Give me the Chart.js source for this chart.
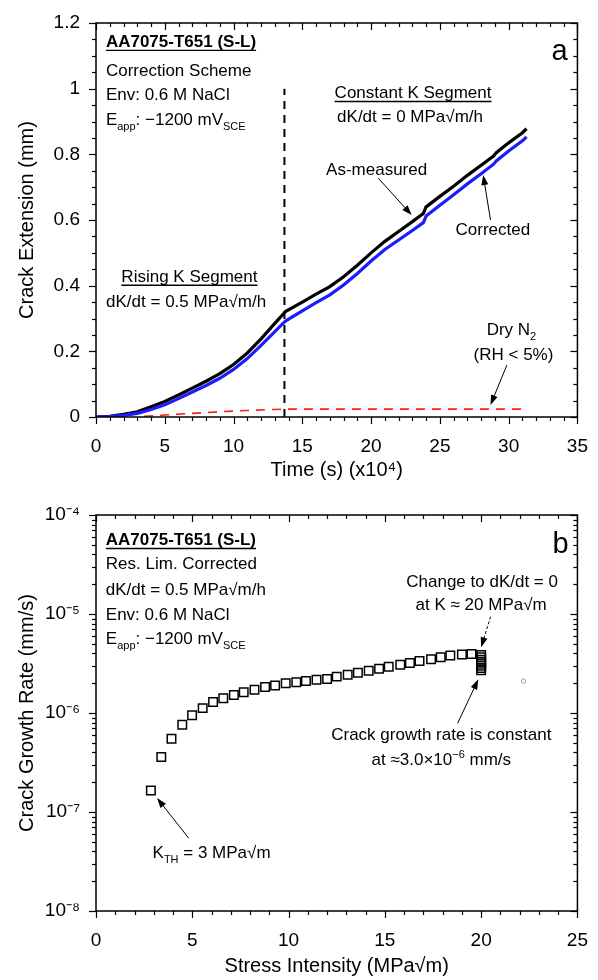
<!DOCTYPE html>
<html>
<head>
<meta charset="utf-8">
<script src="https://cdn.jsdelivr.net/npm/chart.js@4.4.1/dist/chart.umd.min.js"></script>
<style>
  html, body { margin: 0; padding: 0; background: #fff; }
  #wrap { position: relative; width: 598px; height: 980px; }
  canvas { position: absolute; left: 0; }
</style>
</head>
<body>
<div id="wrap">
  <canvas id="crackChart" width="598" height="490" style="top:0"></canvas>
  <canvas id="rateChart" width="598" height="490" style="top:490px"></canvas>
</div>
<script>
// Panel a: crack extension (mm) vs time (x10^4 s)
const timeX      = [0, 1, 2, 3, 4, 5, 6, 7, 8, 9, 10, 11, 12, 13, 13.6, 13.8, 15, 16, 17, 18, 19, 20, 21, 22, 23, 23.8, 24.0, 25, 26, 27, 28, 28.9, 29.1, 30, 31, 31.3];
const measuredY  = [0, 0.002, 0.008, 0.016, 0.031, 0.047, 0.067, 0.088, 0.109, 0.132, 0.16, 0.195, 0.238, 0.285, 0.313, 0.322, 0.35, 0.374, 0.397, 0.427, 0.462, 0.5, 0.535, 0.565, 0.595, 0.62, 0.64, 0.672, 0.703, 0.736, 0.767, 0.795, 0.805, 0.835, 0.866, 0.878];
const correctedY = [0, 0.001, 0.005, 0.011, 0.023, 0.037, 0.056, 0.076, 0.096, 0.118, 0.145, 0.178, 0.218, 0.26, 0.285, 0.293, 0.323, 0.348, 0.372, 0.402, 0.437, 0.475, 0.51, 0.539, 0.568, 0.592, 0.612, 0.645, 0.677, 0.71, 0.741, 0.77, 0.78, 0.81, 0.841, 0.853];
const dryTimeX   = [3.5, 5, 7, 9, 11, 13, 13.7, 20, 25, 31.4];
const dryY       = [0.002, 0.006, 0.011, 0.016, 0.02, 0.023, 0.024, 0.024, 0.024, 0.024];
const changeTime = 13.7;
const changeSpan = [0, 1.0];

// Panel b: crack growth rate (mm/s) vs stress intensity (MPa sqrt m)
const stressK    = [2.85, 3.39, 3.92, 4.48, 4.99, 5.54, 6.08, 6.61, 7.16, 7.67, 8.23, 8.78, 9.3, 9.85, 10.4, 10.9, 11.45, 12.0, 12.5, 13.07, 13.6, 14.16, 14.7, 15.2, 15.8, 16.3, 16.8, 17.4, 17.9, 18.4, 19.0, 19.5, 20.0, 20.0, 20.0, 20.0, 20.0, 20.0, 20.0, 20.0];
const growthRate = [1.65e-7, 3.6e-7, 5.5e-7, 7.6e-7, 9.5e-7, 1.12e-6, 1.29e-6, 1.41e-6, 1.52e-6, 1.62e-6, 1.72e-6, 1.83e-6, 1.9e-6, 2.0e-6, 2.04e-6, 2.1e-6, 2.17e-6, 2.2e-6, 2.33e-6, 2.44e-6, 2.55e-6, 2.67e-6, 2.8e-6, 2.93e-6, 3.08e-6, 3.2e-6, 3.35e-6, 3.5e-6, 3.65e-6, 3.8e-6, 3.9e-6, 3.94e-6, 3.85e-6, 3.65e-6, 3.45e-6, 3.3e-6, 3.15e-6, 3.0e-6, 2.85e-6, 2.7e-6];
const strayK     = [22.2];
const strayRate  = [2.1e-6];
const rateDecades = [-8, -7, -6, -5, -4];

const FONT = '"Liberation Sans", Arial, sans-serif';
Chart.defaults.font.family = FONT;
Chart.defaults.font.size = 19;
Chart.defaults.color = '#000';

const toXY = (xs, ys) => xs.map((v, i) => ({ x: v, y: ys[i] }));
const SUP = { '-': '\u207B', '0': '\u2070', '1': '\u00B9', '2': '\u00B2', '3': '\u00B3', '4': '\u2074', '5': '\u2075', '6': '\u2076', '7': '\u2077', '8': '\u2078', '9': '\u2079' };

// text with _{sub} and ^{sup} pieces
function parseRich(str) {
    const parts = [];
    const re = /([_^])\{([^}]*)\}|([^_^]+)/g;
    let m;
    while ((m = re.exec(str))) {
        if (m[3]) parts.push({ t: m[3] });
        else parts.push({ t: m[2], sub: m[1] === '_', sup: m[1] === '^' });
    }
    return parts;
}

function drawRich(ctx, px, py, text, size, align, bold, underline) {
    const parts = parseRich(text);
    const small = Math.round(size * 0.66);
    const fontFor = p => (bold ? 'bold ' : '') + (p.sub || p.sup ? small : size) + 'px ' + FONT;
    let w = 0;
    parts.forEach(p => { ctx.font = fontFor(p); p.w = ctx.measureText(p.t).width; w += p.w; });
    let cx = align === 'center' ? px - w / 2 : (align === 'right' ? px - w : px);
    const x0 = cx;
    ctx.textAlign = 'left';
    ctx.textBaseline = 'alphabetic';
    parts.forEach(p => {
        ctx.font = fontFor(p);
        const dy = p.sub ? size * 0.3 : (p.sup ? -size * 0.4 : 0);
        ctx.fillText(p.t, cx, py + dy);
        cx += p.w;
    });
    if (underline) {
        ctx.lineWidth = 1.3;
        ctx.beginPath();
        ctx.moveTo(x0, py + 3.5);
        ctx.lineTo(x0 + w, py + 3.5);
        ctx.stroke();
    }
}

function drawArrow(ctx, x1, y1, x2, y2, dash) {
    const ang = Math.atan2(y2 - y1, x2 - x1);
    const hl = 10, hw = 3.5;
    ctx.lineWidth = 1;
    ctx.setLineDash(dash || []);
    ctx.beginPath();
    ctx.moveTo(x1, y1);
    ctx.lineTo(x2 - Math.cos(ang) * hl * 0.8, y2 - Math.sin(ang) * hl * 0.8);
    ctx.stroke();
    ctx.setLineDash([]);
    ctx.beginPath();
    ctx.moveTo(x2, y2);
    ctx.lineTo(x2 - Math.cos(ang) * hl - Math.sin(ang) * hw, y2 - Math.sin(ang) * hl + Math.cos(ang) * hw);
    ctx.lineTo(x2 - Math.cos(ang) * hl + Math.sin(ang) * hw, y2 - Math.sin(ang) * hl - Math.cos(ang) * hw);
    ctx.closePath();
    ctx.fill();
}

function notesPlugin(items) {
    return {
        id: 'notes',
        afterDraw(chart) {
            const { ctx, scales: { x, y } } = chart;
            ctx.save();
            ctx.fillStyle = '#000';
            ctx.strokeStyle = '#000';
            items.forEach(it => {
                if (it.arrow) {
                    const a = it.arrow;
                    drawArrow(ctx, x.getPixelForValue(a[0]), y.getPixelForValue(a[1]),
                              x.getPixelForValue(a[2]), y.getPixelForValue(a[3]), it.dash);
                } else {
                    drawRich(ctx, x.getPixelForValue(it.x), y.getPixelForValue(it.y), it.text,
                             it.size || 17, it.align || 'center', it.bold, it.underline);
                }
            });
            ctx.restore();
        }
    };
}

// box frame, minor ticks, mirrored ticks on top/right
function framePlugin(yTicks) {
    return {
        id: 'frame',
        afterDatasetsDraw(chart) {
            const { ctx, chartArea: a, scales: { x, y } } = chart;
            ctx.save();
            ctx.strokeStyle = '#000';
            ctx.lineWidth = 1.2;
            const seg = (x1, y1, x2, y2) => { ctx.beginPath(); ctx.moveTo(x1, y1); ctx.lineTo(x2, y2); ctx.stroke(); };
            for (let v = x.min; v <= x.max + 1e-9; v += 1) {
                const px = Math.round(x.getPixelForValue(v)) + 0.5;
                const len = Math.round(v) % 5 === 0 ? 7 : 4;
                seg(px, a.bottom, px, a.bottom + len);
                seg(px, a.top, px, a.top + len);
            }
            yTicks.forEach(t => {
                const py = Math.round(y.getPixelForValue(t.v)) + 0.5;
                const len = t.major ? 7 : 4;
                seg(a.left - len, py, a.left, py);
                seg(a.right - len, py, a.right, py);
            });
            ctx.lineWidth = 1.5;
            ctx.strokeRect(a.left, a.top, a.right - a.left, a.bottom - a.top);
            ctx.restore();
        }
    };
}

function axisBox(width, height) {
    return scale => {
        if (width) scale.width = width;
        if (height) scale.height = height;
    };
}

// ---------- panel a ----------
const crackTicks = [];
for (let i = 0; i <= 24; i++) crackTicks.push({ v: i * 0.05, major: i % 4 === 0 });

const crackNotes = [
    { x: 0.72, y: 1.127, text: 'AA7075-T651 (S-L)', align: 'left', bold: true, underline: true },
    { x: 0.72, y: 1.0386, text: 'Correction Scheme', align: 'left' },
    { x: 0.72, y: 0.9655, text: 'Env: 0.6 M NaCl', align: 'left' },
    { x: 0.72, y: 0.889, text: 'E_{app}: \u22121200 mV_{SCE}', align: 'left' },
    { x: 33.7, y: 1.087, text: 'a', size: 29 },
    { x: 23.05, y: 0.9716, text: 'Constant K Segment', underline: true },
    { x: 22.83, y: 0.8985, text: 'dK/dt = 0 MPa\u221Am/h' },
    { x: 20.4, y: 0.737, text: 'As-measured' },
    { arrow: [20.53, 0.727, 22.95, 0.615] },
    { x: 28.85, y: 0.554, text: 'Corrected' },
    { arrow: [28.68, 0.60, 28.15, 0.737] },
    { x: 6.79, y: 0.412, text: 'Rising K Segment', underline: true },
    { x: 6.55, y: 0.336, text: 'dK/dt = 0.5 MPa\u221Am/h' },
    { x: 30.2, y: 0.25, text: 'Dry N_{2}' },
    { x: 30.35, y: 0.1736, text: '(RH < 5%)' },
    { arrow: [29.87, 0.158, 28.68, 0.0366] }
];

new Chart(document.getElementById('crackChart'), {
    type: 'line',
    data: {
        datasets: [
            { label: 'Corrected', data: toXY(timeX, correctedY), borderColor: '#1c1cff', borderWidth: 3.2, pointRadius: 0, tension: 0, order: 0 },
            { label: 'As-measured', data: toXY(timeX, measuredY), borderColor: '#000000', borderWidth: 3.2, pointRadius: 0, tension: 0, order: 1 },
            { label: 'Dry N2', data: toXY(dryTimeX, dryY), borderColor: '#ff1a1a', borderWidth: 1.6, borderDash: [9, 7], pointRadius: 0, tension: 0, order: 2 },
            { label: 'dK/dt change', data: changeSpan.map(v => ({ x: changeTime, y: v })), borderColor: '#000000', borderWidth: 2, borderDash: [8, 6], pointRadius: 0, order: 3 }
        ]
    },
    options: {
        responsive: false,
        animation: false,
        layout: { padding: { top: 23, right: 13, bottom: 0, left: 0 } },
        plugins: { legend: { display: false }, tooltip: { enabled: false } },
        scales: {
            x: {
                type: 'linear', min: 0, max: 35,
                ticks: { stepSize: 5, padding: 10 },
                grid: { display: false }, border: { display: false },
                title: { display: true, text: 'Time (s) (x10\u2074)', font: { size: 20 }, padding: { top: 0, bottom: 8 } },
                afterFit: axisBox(0, 73)
            },
            y: {
                type: 'linear', min: 0, max: 1.2,
                ticks: { stepSize: 0.2, padding: 8, callback: v => String(Number(v.toFixed(1))) },
                grid: { display: false }, border: { display: false },
                title: { display: true, text: 'Crack Extension (mm)', font: { size: 20 }, padding: { top: 15, bottom: 0 } },
                afterFit: axisBox(96, 0)
            }
        }
    },
    plugins: [framePlugin(crackTicks), notesPlugin(crackNotes)]
});

// ---------- panel b ----------
const rateTicks = [];
rateDecades.forEach(e => {
    rateTicks.push({ v: Math.pow(10, e), major: true });
    if (e < -4) for (let m = 2; m <= 9; m++) rateTicks.push({ v: m * Math.pow(10, e), major: false });
});

const rateNotes = [
    { x: 0.51, y: 10 ** -4.303, text: 'AA7075-T651 (S-L)', align: 'left', bold: true, underline: true },
    { x: 0.51, y: 10 ** -4.545, text: 'Res. Lim. Corrected', align: 'left' },
    { x: 0.51, y: 10 ** -4.808, text: 'dK/dt = 0.5 MPa\u221Am/h', align: 'left' },
    { x: 0.51, y: 10 ** -5.061, text: 'Env: 0.6 M NaCl', align: 'left' },
    { x: 0.51, y: 10 ** -5.303, text: 'E_{app}: \u22121200 mV_{SCE}', align: 'left' },
    { x: 24.13, y: 10 ** -4.384, text: 'b', size: 29 },
    { x: 20.05, y: 10 ** -4.724, text: 'Change to dK/dt = 0' },
    { x: 20.0, y: 10 ** -4.96, text: 'at K \u2248 20 MPa\u221Am' },
    { arrow: [20.49, 10 ** -5.027, 20.0, 10 ** -5.336], dash: [3, 2] },
    { x: 17.93, y: 10 ** -6.273, text: 'Crack growth rate is constant' },
    { x: 17.93, y: 10 ** -6.525, text: 'at \u22483.0\u00D710^{\u22126} mm/s' },
    { arrow: [18.78, 10 ** -6.104, 19.85, 10 ** -5.66] },
    { x: 6.0, y: 10 ** -7.465, text: 'K_{TH} = 3 MPa\u221Am' },
    { arrow: [4.81, 10 ** -7.263, 3.17, 10 ** -6.859] }
];

new Chart(document.getElementById('rateChart'), {
    type: 'scatter',
    data: {
        datasets: [
            { label: 'Rate', data: toXY(stressK, growthRate), pointStyle: 'rect', pointRadius: 6, borderColor: '#000', borderWidth: 1.5, backgroundColor: 'rgba(0,0,0,0)' },
            { label: 'Stray', data: toXY(strayK, strayRate), pointStyle: 'circle', pointRadius: 2.2, borderColor: '#9c9cae', borderWidth: 1, backgroundColor: 'rgba(0,0,0,0)' }
        ]
    },
    options: {
        responsive: false,
        animation: false,
        layout: { padding: { top: 25, right: 13, bottom: 0, left: 0 } },
        plugins: { legend: { display: false }, tooltip: { enabled: false } },
        scales: {
            x: {
                type: 'linear', min: 0, max: 25,
                ticks: { stepSize: 5, padding: 10 },
                grid: { display: false }, border: { display: false },
                title: { display: true, text: 'Stress Intensity (MPa\u221Am)', font: { size: 20 }, padding: { top: 0, bottom: 2 } },
                afterFit: axisBox(0, 69)
            },
            y: {
                type: 'logarithmic', min: 1e-8, max: 1e-4,
                afterBuildTicks: scale => { scale.ticks = rateDecades.map(e => ({ value: Math.pow(10, e) })); },
                ticks: {
                    padding: 8,
                    callback: value => '10' + String(Math.round(Math.log10(value))).split('').map(c => SUP[c]).join('')
                },
                grid: { display: false }, border: { display: false },
                title: { display: true, text: 'Crack Growth Rate (mm/s)', font: { size: 20 }, padding: { top: 15, bottom: 0 } },
                afterFit: axisBox(96, 0)
            }
        }
    },
    plugins: [framePlugin(rateTicks), notesPlugin(rateNotes)]
});
</script>
</body>
</html>
